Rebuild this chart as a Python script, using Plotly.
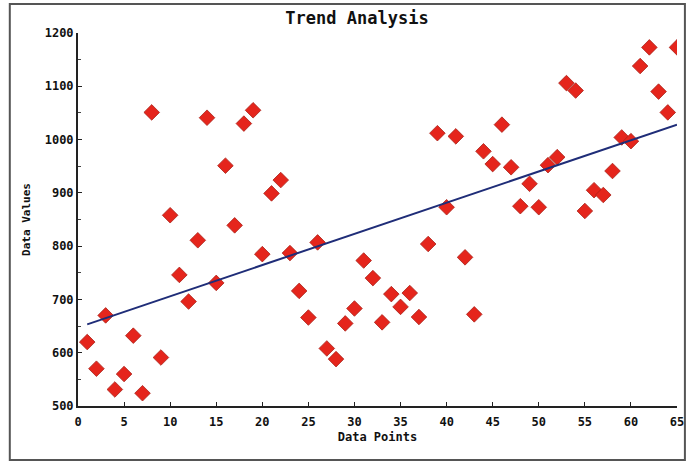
import numpy as np
import plotly.graph_objects as go

x_points = list(range(1, 66))
y_values = [620, 570, 670, 531, 560, 632, 524, 1051, 591, 858,
            746, 696, 811, 1041, 731, 951, 839, 1030, 1055, 785,
            899, 924, 787, 716, 666, 807, 608, 588, 655, 683,
            773, 740, 657, 710, 686, 712, 667, 804, 1012, 873,
            1006, 779, 672, 978, 954, 1028, 948, 875, 917, 873,
            952, 967, 1106, 1092, 866, 905, 896, 941, 1004, 997,
            1138, 1173, 1090, 1051, 1173]

slope, intercept = np.polyfit(x_points, y_values, 1)
trend_x = [x_points[0], x_points[-1]]
trend_y = [slope * v + intercept for v in trend_x]

font = "DejaVu Sans Mono"

fig = go.Figure()
fig.add_trace(go.Scatter(x=x_points, y=y_values, mode="markers",
                         marker=dict(symbol="diamond", size=12, color="#e5251c",
                                     line=dict(width=0.8, color="#a8231b")),
                         showlegend=False))
fig.add_trace(go.Scatter(x=trend_x, y=trend_y, mode="lines",
                         line=dict(color="#1f2d78", width=2), showlegend=False))

fig.update_layout(
    width=696, height=463,
    margin=dict(l=78, r=12, t=33, b=57),
    paper_bgcolor="white", plot_bgcolor="white",
    title=dict(text="<b>Trend Analysis</b>", x=357 / 696, xanchor="center",
               y=1 - 18 / 463, yanchor="middle",
               font=dict(family=font, size=17, color="#111")),
    xaxis=dict(range=[0, 65], tickvals=list(range(0, 66, 5)), showgrid=False,
               zeroline=False, showline=True, linecolor="#222", linewidth=2,
               ticks="inside", ticklen=4, tickcolor="#222", ticklabelstandoff=4,
               tickfont=dict(family=font, size=12, color="#111", weight="bold"),
               title=dict(text="<b>Data Points</b>", standoff=4,
                          font=dict(family=font, size=12, color="#111"))),
    yaxis=dict(range=[500, 1200], tickvals=list(range(500, 1201, 100)), showgrid=False,
               zeroline=False, showline=True, linecolor="#222", linewidth=2,
               ticks="inside", ticklen=4, tickcolor="#222",
               minor=dict(ticks="inside", ticklen=3, dtick=50, tickcolor="#444"),
               tickfont=dict(family=font, size=12, color="#111", weight="bold"),
               title=dict(text="<b>Data Values</b>", standoff=12,
                          font=dict(family=font, size=11, color="#111"))),
    shapes=[dict(type="rect", xref="paper", yref="paper",
                 x0=(9 - 78) / 606, x1=(692 - 78) / 606,
                 y0=(406 - 460) / 373, y1=(406 - 4) / 373,
                 line=dict(color="#555", width=2), fillcolor="rgba(0,0,0,0)",
                 layer="below")],
)

fig.write_html("out.html", config={"displayModeBar": False},
               post_script="document.body.style.margin='0';")
